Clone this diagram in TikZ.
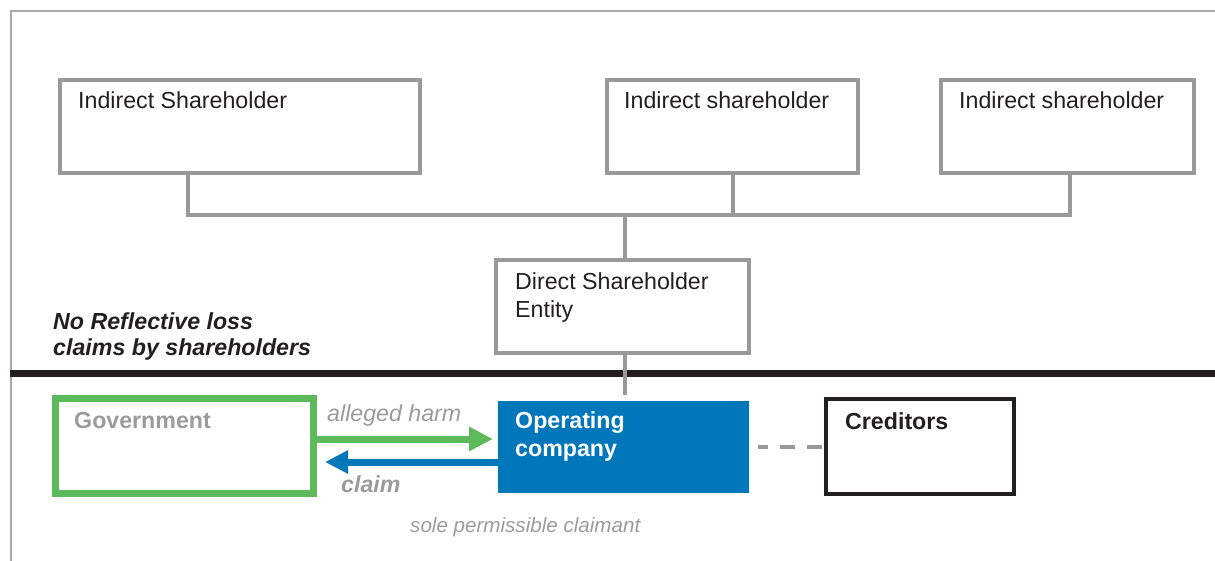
\documentclass[tikz,border=0pt]{standalone}
\usepackage{fontspec}
\setmainfont{Liberation Sans}
\usetikzlibrary{arrows.meta}
\definecolor{ink}{RGB}{35,31,32}
\definecolor{boxgray}{RGB}{153,153,153}
\definecolor{framegray}{RGB}{170,170,170}
\definecolor{txtgray}{RGB}{155,155,155}
\definecolor{govgreen}{RGB}{92,186,90}
\definecolor{opblue}{RGB}{0,118,187}
\tikzset{
  graybox/.style={draw=boxgray, line width=4pt, rectangle, inner sep=0, outer sep=0},
  conn/.style={draw=boxgray, line width=4pt},
  txt/.style={anchor=base west, inner sep=0, font=\fontsize{23.2}{27}\selectfont, text=ink},
  btxt/.style={txt, font=\fontsize{23.2}{27}\selectfont\bfseries},
  bitxt/.style={txt, font=\fontsize{23.2}{27}\selectfont\bfseries\itshape},
  itxt/.style={txt, font=\fontsize{23.2}{27}\selectfont\itshape, text=txtgray},
}
\begin{document}
\begin{tikzpicture}[x=1pt,y=-1pt]
\useasboundingbox (0,0) rectangle (1215,561);
% frame
\draw[framegray, line width=2pt] (11,561) -- (11,11) -- (1215,11);
% separator line
\draw[ink, line width=7pt] (10,373.5) -- (1215,373.5);

% indirect shareholder boxes
\node[graybox, minimum width=360, minimum height=93] (b1) at (240,126.5) {};
\node[graybox, minimum width=251, minimum height=93] (b2) at (732.5,126.5) {};
\node[graybox, minimum width=253, minimum height=93] (b3) at (1067.5,126.5) {};
\node[txt] (t1) at (78,109) {Indirect Shareholder};
\node[txt] (t2) at (624,109) {Indirect shareholder};
\node[txt] (t3) at (959,109) {Indirect shareholder};

% direct shareholder entity
\node[graybox, minimum width=253, minimum height=93] (dse) at (622.5,306.5) {};
\node[txt] (d1) at (515,290) {Direct Shareholder};
\node[txt] (d2) at (515,317) {Entity};

% bus connectors
\coordinate (bus) at (625,215);
\coordinate (tap1) at (188,215);
\coordinate (tap2) at (733,215);
\coordinate (tap3) at (1070,215);
\draw[conn] (tap1 |- b1.south) -- (tap1) -- (tap3) -- (tap3 |- b3.south);
\draw[conn] (tap2 |- b2.south) -- (tap2);
\draw[conn] (bus) -- (bus |- dse.north);

% reflective loss text
\node[bitxt] (r1) at (53,329) {No Reflective loss};
\node[bitxt] (r2) at (53,355) {claims by shareholders};

% government
\node[draw=govgreen, line width=7pt, rectangle, inner sep=0, outer sep=0, minimum width=258, minimum height=95] (gov) at (184.5,446) {};
\node[btxt, text=txtgray] (govt) at (74,428) {Government};

% operating company
\node[fill=opblue, draw=none, rectangle, inner sep=0, outer sep=0, minimum width=251, minimum height=92] (op) at (623.5,447) {};
\node[btxt, text=white] (op1) at (515,428) {Operating};
\node[btxt, text=white] (op2) at (515,456) {company};

% connector DSE -> operating company
\draw[conn, shorten >=6pt] (bus |- dse.south) -- (bus |- op.north);

% creditors
\node[draw=ink, line width=4pt, rectangle, inner sep=0, outer sep=0, minimum width=188, minimum height=95] (cred) at (920,446.5) {};
\node[btxt] (credt) at (845,429) {Creditors};

% dashed link
\draw[draw=boxgray, line width=4pt, shorten <=9pt, dash pattern=on 10pt off 12pt on 15pt off 12pt on 15pt off 12pt] (op.east) -- (op.east -| cred.west);

% arrows
\draw[draw=govgreen, line width=7pt, shorten >=5pt, -{Triangle[length=24pt,width=23pt]}] ([yshift=7pt]gov.east) -- ([yshift=8pt]op.west);
\draw[draw=opblue, line width=7pt, shorten >=11.5pt, -{Triangle[length=23pt,width=22pt]}] ([yshift=-15pt]op.west) -- ([yshift=-16pt]gov.east);

\node[itxt] (harm) at (327,421) {alleged harm};
\node[bitxt, text=txtgray] (claim) at (341,492) {claim};
\node[itxt, font=\fontsize{20.6}{24}\selectfont\itshape] (sole) at (410,532) {sole permissible claimant};
\end{tikzpicture}
\end{document}
